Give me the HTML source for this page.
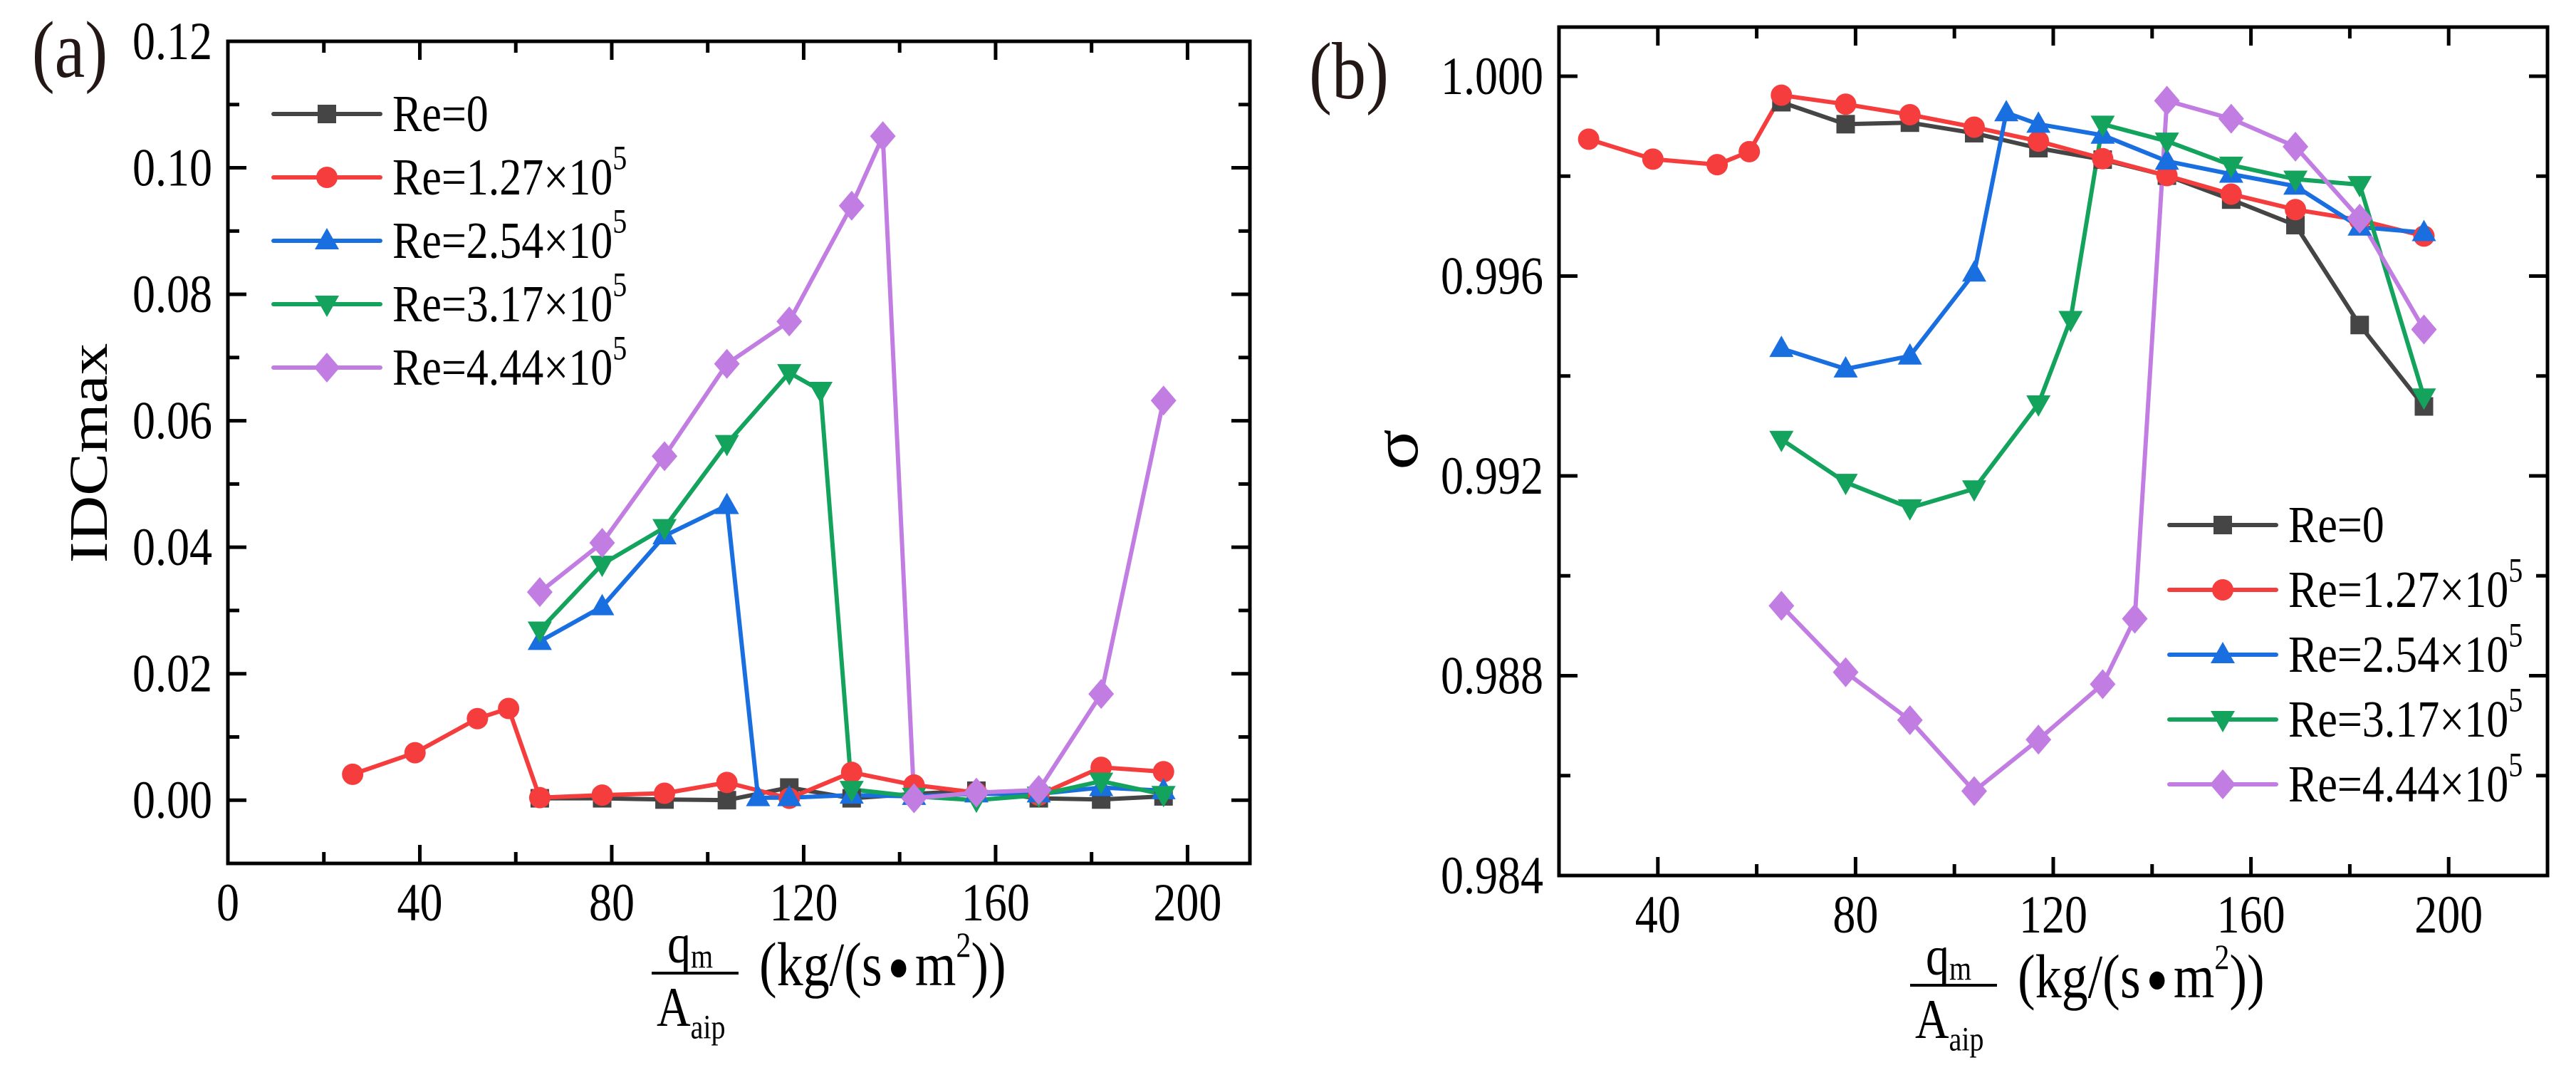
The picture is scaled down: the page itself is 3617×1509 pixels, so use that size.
<!DOCTYPE html>
<html><head><meta charset="utf-8"><style>
html,body{margin:0;padding:0;background:#fff;}
svg{display:block;font-family:"Liberation Serif",serif;}
</style></head><body>
<svg id="fig" width="3617" height="1509" viewBox="0 0 3617 1509" xmlns="http://www.w3.org/2000/svg" font-family="Liberation Serif, serif"></svg>
<script>
// ---- data ----
const seriesNames = ["Re=0","Re=1.27×10","Re=2.54×10","Re=3.17×10","Re=4.44×10"];
const seriesSup = ["","5","5","5","5"];
const seriesColors = ["#454545","#f63d3d","#1a6fe0","#13a35c","#c27de3"];
const seriesMarkers = ["square","circle","triangle-up","triangle-down","diamond"];

const xRe0 = [65,78,91,104,117,130,143,156,169,182,195];
const xRe127 = [26,39,52,58.5,65,78,91,104,117,130,143,156,169,182,195];
const xRe254 = [65,78,91,104,110.5,117,130,143,156,169,182,195];
const xRe317 = [65,78,91,104,117,123.5,130,143,156,169,182,195];
const xRe444 = [65,78,91,104,117,130,136.5,143,156,169,182,195];

// panel (a) IDCmax
const idcRe0 = [0.0003,0.0003,0.0001,0.0000,0.0020,0.0003,0.0010,0.0015,0.0003,0.0001,0.0006];
const idcRe127 = [0.0041,0.0075,0.0129,0.0145,0.0004,0.0008,0.0011,0.0028,0.0003,0.0044,0.0024,0.0012,0.0008,0.0052,0.0045];
const idcRe254 = [0.0251,0.0306,0.0418,0.0466,0.0004,0.0004,0.0008,0.0006,0.0010,0.0010,0.0020,0.0015];
const idcRe317 = [0.0269,0.0373,0.0431,0.0564,0.0676,0.0648,0.0017,0.0006,0.0000,0.0008,0.0030,0.0009];
const idcRe444 = [0.0329,0.0407,0.0544,0.0690,0.0757,0.0940,0.1050,0.0003,0.0012,0.0016,0.0168,0.0632];

// panel (b) sigma
const sigRe0 = [0.99948,0.99904,0.99907,0.99886,0.99856,0.99833,0.99801,0.99753,0.99702,0.99502,0.99339];
const sigRe127 = [0.99874,0.99834,0.99823,0.99849,0.99962,0.99944,0.99923,0.99898,0.99870,0.99835,0.99801,0.99764,0.99733,0.99712,0.99680];
const sigRe254 = [0.99455,0.99414,0.99440,0.99606,0.99927,0.99904,0.99882,0.99830,0.99804,0.99780,0.99698,0.99687];
const sigRe317 = [0.99273,0.99187,0.99136,0.99174,0.99344,0.99513,0.99904,0.99870,0.99822,0.99794,0.99783,0.99358];
const sigRe444 = [0.98940,0.98807,0.98711,0.98569,0.98672,0.98783,0.98914,0.99951,0.99915,0.99859,0.99715,0.99493];

const xTicksA = [0,40,80,120,160,200];
const yTicksA = [0.00,0.02,0.04,0.06,0.08,0.10,0.12];
const yTickLabelsA = ["0.00","0.02","0.04","0.06","0.08","0.10","0.12"];
const xTicksB = [40,80,120,160,200];
const yTicksB = [0.984,0.988,0.992,0.996,1.000];
const yTickLabelsB = ["0.984","0.988","0.992","0.996","1.000"];

const NS = "http://www.w3.org/2000/svg";
const svg = document.getElementById("fig");
const STRETCH = 1.18;
function mk(tag, attrs, parent){
  const e = document.createElementNS(NS, tag);
  for (const k in attrs) e.setAttribute(k, attrs[k]);
  (parent||svg).appendChild(e);
  return e;
}
function txt(attrs, parent){
  const y = attrs.y;
  attrs.transform = `translate(0 ${y}) scale(1 ${STRETCH}) translate(0 ${-y})`;
  attrs["font-family"] = "Liberation Serif, serif";
  return mk("text", attrs, parent);
}
function marker(g, type, cx, cy, color){
  let e;
  if (type==="square") e = mk("rect",{x:cx-13,y:cy-13,width:26,height:26,fill:color},g);
  else if (type==="circle") e = mk("circle",{cx:cx,cy:cy,r:15,fill:color},g);
  else if (type==="triangle-up") e = mk("polygon",{points:`${cx},${cy-18} ${cx-17},${cy+12} ${cx+17},${cy+12}`,fill:color},g);
  else if (type==="triangle-down") e = mk("polygon",{points:`${cx},${cy+18} ${cx-17},${cy-12} ${cx+17},${cy-12}`,fill:color},g);
  else e = mk("polygon",{points:`${cx},${cy-21} ${cx+18},${cy} ${cx},${cy+21} ${cx-18},${cy}`,fill:color},g);
  
  
  return e;
}

function panel(cfg){
  const g = mk("g",{});
  
  
  const L=cfg.L,R=cfg.R,T=cfg.T,B=cfg.B;
  const sx = v => L + (v-cfg.xmin)/(cfg.xmax-cfg.xmin)*(R-L);
  const sy = v => B - (v-cfg.ymin)/(cfg.ymax-cfg.ymin)*(B-T);
  const sg = mk("g",{},g);
  
  
  cfg.series.forEach((s,i)=>{
    const pts = s.x.map((xv,j)=>sx(xv).toFixed(1)+","+sy(s.y[j]).toFixed(1)).join(" ");
    const pl = mk("polyline",{points:pts,fill:"none",stroke:seriesColors[i],"stroke-width":6,"stroke-linejoin":"round"},sg);
    
    
  });
  cfg.series.forEach((s,i)=>{
    s.x.forEach((xv,j)=>marker(sg,seriesMarkers[i],sx(xv),sy(s.y[j]),seriesColors[i]));
  });
  const fr = mk("rect",{x:L,y:T,width:R-L,height:B-T,fill:"none",stroke:"#000","stroke-width":5},g);
  
  
  const xt = cfg.xTicks;
  const step = xt[1]-xt[0];
  for (let v=xt[0]-step/2; v<=cfg.xmax; v+=step/2){
    if (v<cfg.xmin) continue;
    const major = xt.some(t=>Math.abs(t-v)<1e-6);
    const len = major?26:16, px=sx(v);
    mk("line",{x1:px,y1:B,x2:px,y2:B-len,stroke:"#000","stroke-width":5},g);
    mk("line",{x1:px,y1:T,x2:px,y2:T+len,stroke:"#000","stroke-width":5},g);
  }
  xt.forEach(v=>{
    const t = txt({x:sx(v),y:B+cfg.xLabOff,"font-size":64,"text-anchor":"middle"},g);
    t.textContent = String(v);
    
    
  });
  const yt = cfg.yTicks, ys = yt[1]-yt[0];
  for (let k=-2;k<=2*yt.length+2;k++){
    const v = yt[0]+k*ys/2;
    if (v<cfg.ymin-1e-9||v>cfg.ymax+1e-9) continue;
    const major = k%2===0;
    const len = major?26:16, py=sy(v);
    mk("line",{x1:L,y1:py,x2:L+len,y2:py,stroke:"#000","stroke-width":5},g);
    mk("line",{x1:R,y1:py,x2:R-len,y2:py,stroke:"#000","stroke-width":5},g);
  }
  yt.forEach((v,i)=>{
    const t = txt({x:L-22,y:sy(v)+25,"font-size":64,"text-anchor":"end"},g);
    t.textContent = cfg.yLabels[i];
    
    
  });
  const lg = mk("g",{},g);
  
  
  seriesNames.forEach((n,i)=>{
    const y = cfg.legY + i*cfg.legDy;
    const e = mk("g",{},lg);
    
    
    mk("line",{x1:cfg.legX,y1:y,x2:cfg.legX+150,y2:y,stroke:seriesColors[i],"stroke-width":6,"stroke-linecap":"round"},e);
    marker(e,seriesMarkers[i],cfg.legX+75,y,seriesColors[i]);
    const t = txt({x:cfg.legX+167,y:y+24,"font-size":62},e);
    t.textContent = n;
    if (seriesSup[i]){
      const sp = mk("tspan",{"font-size":40,dy:-30},t);
      sp.textContent = seriesSup[i];
    }
  });
  const xg = mk("g",{},g);
  
  
  const fx=cfg.fracX, fy=B+cfg.fracOff;
  mk("line",{x1:fx,y1:fy,x2:fx+122,y2:fy,stroke:"#000","stroke-width":4},xg);
  const q = txt({x:fx+22,y:fy-15,"font-size":66},xg);
  q.textContent="q";
  const qs = mk("tspan",{"font-size":40,dy:6},q); qs.textContent="m";
  const a = txt({x:fx+7,y:fy+74,"font-size":66},xg);
  a.textContent="A";
  const as = mk("tspan",{"font-size":40,dy:15},a); as.textContent="aip";
  const u = txt({x:fx+151,y:fy+17,"font-size":74},xg);
  u.textContent="(kg/(s";
  const dot = mk("tspan",{"font-size":50,dx:8,dy:-6},u); dot.textContent="●";
  const m2 = mk("tspan",{dx:8,dy:6},u); m2.textContent="m";
  const sup = mk("tspan",{"font-size":42,dy:-34},u); sup.textContent="2";
  const cl = mk("tspan",{dy:34},u); cl.textContent="))";
  const yt2 = mk("text",{x:cfg.ytX,y:cfg.ytY,"font-size":cfg.ytSize,"font-family":"Liberation Serif, serif","text-anchor":"middle",transform:`rotate(-90 ${cfg.ytX} ${cfg.ytY}) translate(${cfg.ytX} 0) scale(${STRETCH} 1) translate(${-cfg.ytX} 0)`},g);
  yt2.textContent = cfg.yTitle;
  
  
  const pl = txt({x:cfg.lbX,y:cfg.lbY,"font-size":96,fill:"#231815","text-anchor":"middle"},g);
  pl.textContent = cfg.label;
  
  
}

panel({name:"panel-a-idcmax",L:320,R:1755,T:58,B:1212,xmin:0,xmax:213,ymin:-0.01,ymax:0.12,
  xTicks:xTicksA,yTicks:yTicksA,yLabels:yTickLabelsA,xLabOff:80,
  series:[{x:xRe0,y:idcRe0},{x:xRe127,y:idcRe127},{x:xRe254,y:idcRe254},{x:xRe317,y:idcRe317},{x:xRe444,y:idcRe444}],
  legX:384,legY:160,legDy:89,fracX:915,fracOff:154,yTitle:"IDCmax",ytX:150,ytY:636,ytSize:76,
  label:"(a)",lbX:98,lbY:108});

panel({name:"panel-b-sigma",L:2189,R:3577,T:38,B:1229,xmin:20,xmax:220,ymin:0.984,ymax:1.000984,
  xTicks:xTicksB,yTicks:yTicksB,yLabels:yTickLabelsB,xLabOff:80,
  series:[{x:xRe0,y:sigRe0},{x:xRe127,y:sigRe127},{x:xRe254,y:sigRe254},{x:xRe317,y:sigRe317},{x:xRe444,y:sigRe444}],
  legX:3046,legY:737,legDy:91,fracX:2682,fracOff:154,yTitle:"σ",ytX:1990,ytY:631,ytSize:90,
  label:"(b)",lbX:1894,lbY:138});
</script>
</body></html>
